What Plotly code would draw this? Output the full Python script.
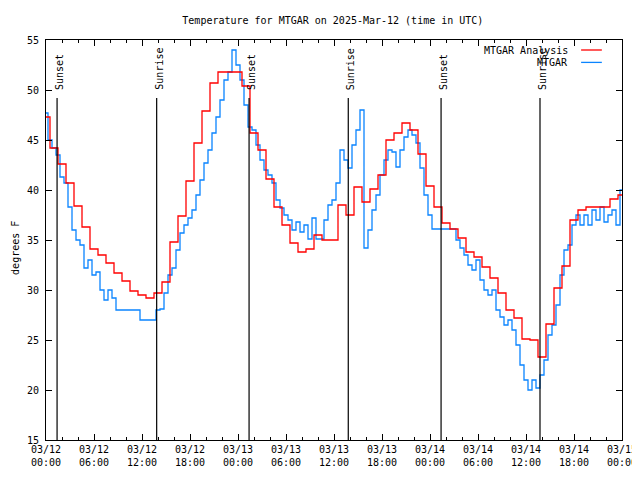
import pandas as pd
import plotly.graph_objects as go

# --- data -------------------------------------------------------------
# MTGAR Analysis (hourly, starting 2025-03-12 00:00 UTC)
analysis_temp = [
    47.3, 44.2, 42.6, 40.7, 38.4, 36.3, 34.1, 33.5, 32.7, 31.7,
    30.9, 29.9, 29.5, 29.2, 29.7, 30.8, 34.8, 37.4, 40.9, 44.7,
    47.9, 50.7, 51.8, 51.8, 51.8, 50.4, 45.7, 44.0, 41.1, 38.3,
    36.5, 34.7, 33.8, 34.1, 35.5, 35.0, 35.0, 38.5, 37.5, 40.3,
    38.8, 40.1, 41.5, 45.0, 45.7, 46.7, 46.0, 43.6, 40.4, 38.3,
    36.7, 36.1, 35.2, 33.8, 33.3, 32.3, 31.2, 29.7, 28.0, 27.2,
    25.1, 25.0, 23.3, 26.6, 30.2, 32.4, 37.0, 38.0, 38.3, 38.3,
    38.3, 39.1, 39.5,
]

# MTGAR observations (every 30 minutes, starting 2025-03-12 00:00 UTC)
obs_temp = [
    47.7, 45.0, 44.2, 43.5, 41.3, 40.7, 38.3, 36.0, 35.0, 34.5,
    32.2, 33.0, 31.5, 31.8, 30.0, 29.0, 30.0, 29.2, 28.0, 28.0,
    28.0, 28.0, 28.0, 28.0, 27.0, 27.0, 27.0, 27.0, 28.0, 28.1,
    29.7, 31.5, 32.2, 34.0, 35.7, 36.5, 37.2, 38.0, 39.5, 41.0,
    42.7, 44.0, 45.7, 47.3, 49.0, 51.0, 51.8, 54.0, 52.5, 51.0,
    48.5, 46.3, 46.0, 44.5, 43.0, 42.0, 41.5, 40.7, 39.0, 38.2,
    37.5, 37.0, 36.0, 36.8, 35.8, 36.5, 35.1, 37.2, 35.1, 35.1,
    37.0, 38.5, 39.0, 40.7, 44.0, 43.0, 42.2, 44.5, 46.0, 48.0,
    34.2, 36.0, 38.0, 39.5, 41.5, 43.0, 44.0, 43.8, 42.3, 44.0,
    45.3, 46.0, 45.5, 44.7, 42.2, 39.5, 37.5, 36.1, 36.1, 36.1,
    36.1, 36.1, 36.1, 35.0, 34.2, 33.5, 32.5, 32.0, 33.0, 31.0,
    30.0, 29.5, 30.0, 28.0, 27.3, 26.5, 27.0, 26.0, 24.5, 22.5,
    21.0, 20.0, 21.0, 20.2, 21.5, 23.0, 25.5, 26.5, 28.5, 31.5,
    34.0, 34.5, 36.5, 37.5, 36.5, 37.5, 36.5, 38.0, 37.0, 38.3,
    36.8, 37.5, 38.0, 36.5, 40.0,
]

sun_times = ["2025-03-12 01:23", "2025-03-12 13:50", "2025-03-13 01:23",
             "2025-03-13 13:47", "2025-03-14 01:23", "2025-03-14 13:45"]
sun_labels = ["Sunset", "Sunrise", "Sunset", "Sunrise", "Sunset", "Sunrise"]

tick_times = pd.date_range("2025-03-12 00:00", "2025-03-15 00:00", freq="6h")
tick_labels = ["03/12<br>00:00", "03/12<br>06:00", "03/12<br>12:00", "03/12<br>18:00",
               "03/13<br>00:00", "03/13<br>06:00", "03/13<br>12:00", "03/13<br>18:00",
               "03/14<br>00:00", "03/14<br>06:00", "03/14<br>12:00", "03/14<br>18:00",
               "03/15<br>00:00"]

analysis_time = pd.date_range("2025-03-12 00:00", periods=len(analysis_temp), freq="h")
obs_time = pd.date_range("2025-03-12 00:00", periods=len(obs_temp), freq="30min")

# --- style -----------------------------------------------------------
FONT = "DejaVu Sans Mono"
RED = "#ff0000"
BLUE = "#0a84ff"
SUN_LINE_TOP = 49.2
SUN_TEXT_BOTTOM = 49.8

fig = go.Figure()
fig.add_trace(go.Scatter(x=obs_time, y=obs_temp, mode="lines", name="MTGAR",
                         line=dict(color=BLUE, width=1.3, shape="hvh"),
                         showlegend=False))
fig.add_trace(go.Scatter(x=analysis_time, y=analysis_temp, mode="lines",
                         name="MTGAR Analysis",
                         line=dict(color=RED, width=1.3, shape="hvh"),
                         showlegend=False))

for t, lab in zip(sun_times, sun_labels):
    fig.add_shape(type="line", x0=t, x1=t, y0=15, y1=SUN_LINE_TOP,
                  xref="x", yref="y", line=dict(color="black", width=1.2),
                  layer="above")
    fig.add_annotation(x=t, y=SUN_TEXT_BOTTOM, xref="x", yref="y", text=lab,
                       textangle=-90, showarrow=False, xanchor="center",
                       yanchor="bottom", xshift=2,
                       font=dict(family=FONT, size=10, color="black"))

# manual legend (gnuplot style: text then line sample on the right)
legend_items = [("MTGAR Analysis", RED, 0.975), ("MTGAR", BLUE, 0.944)]
for text, col, yp in legend_items:
    fig.add_annotation(x=0.91, y=yp, xref="paper", yref="paper", text=text,
                       showarrow=False, xanchor="right", yanchor="middle",
                       font=dict(family=FONT, size=10, color="black"))
    fig.add_shape(type="line", x0=0.929, x1=0.965, y0=yp, y1=yp,
                  xref="paper", yref="paper", line=dict(color=col, width=1.3))

# y-axis title as rotated text at the far left
fig.add_annotation(x=-0.054, y=0.48, xref="paper", yref="paper", text="degrees F",
                   textangle=-90, showarrow=False, xanchor="center", yanchor="middle",
                   font=dict(family=FONT, size=10, color="black"))

# the page body adds an 8px offset, so the figure is 632x472 and margins compensate
fig.update_layout(
    width=632, height=472,
    margin=dict(l=38, r=18, t=32, b=40, autoexpand=False),
    paper_bgcolor="white", plot_bgcolor="white",
    font=dict(family=FONT, size=10, color="black"),
    title=dict(text="Temperature for MTGAR on 2025-Mar-12 (time in UTC)",
               x=0.514, xanchor="center", y=1 - 12 / 472, yanchor="middle",
               yref="container", font=dict(family=FONT, size=10, color="black")),
    showlegend=False,
)
fig.update_xaxes(
    range=["2025-03-12 00:00", "2025-03-15 00:00"], automargin=False,
    tickvals=tick_times, ticktext=tick_labels, ticklabeloverflow="allow",
    ticks="inside", ticklen=6, tickcolor="black", tickwidth=1,
    minor=dict(dtick=7200000, ticks="inside", ticklen=3, tickcolor="black",
               showgrid=False),
    showline=True, linecolor="black", linewidth=1, mirror="ticks",
    showgrid=False, zeroline=False,
    tickfont=dict(family=FONT, size=10, color="black"),
)
fig.update_yaxes(
    range=[15, 55], tickvals=[15, 20, 25, 30, 35, 40, 45, 50, 55], automargin=False,
    ticks="inside", ticklen=6, tickcolor="black", tickwidth=1, ticklabelstandoff=4,
    showline=True, linecolor="black", linewidth=1, mirror="ticks",
    showgrid=False, zeroline=False,
    tickfont=dict(family=FONT, size=10, color="black"),
)

fig.write_html("out.html")
